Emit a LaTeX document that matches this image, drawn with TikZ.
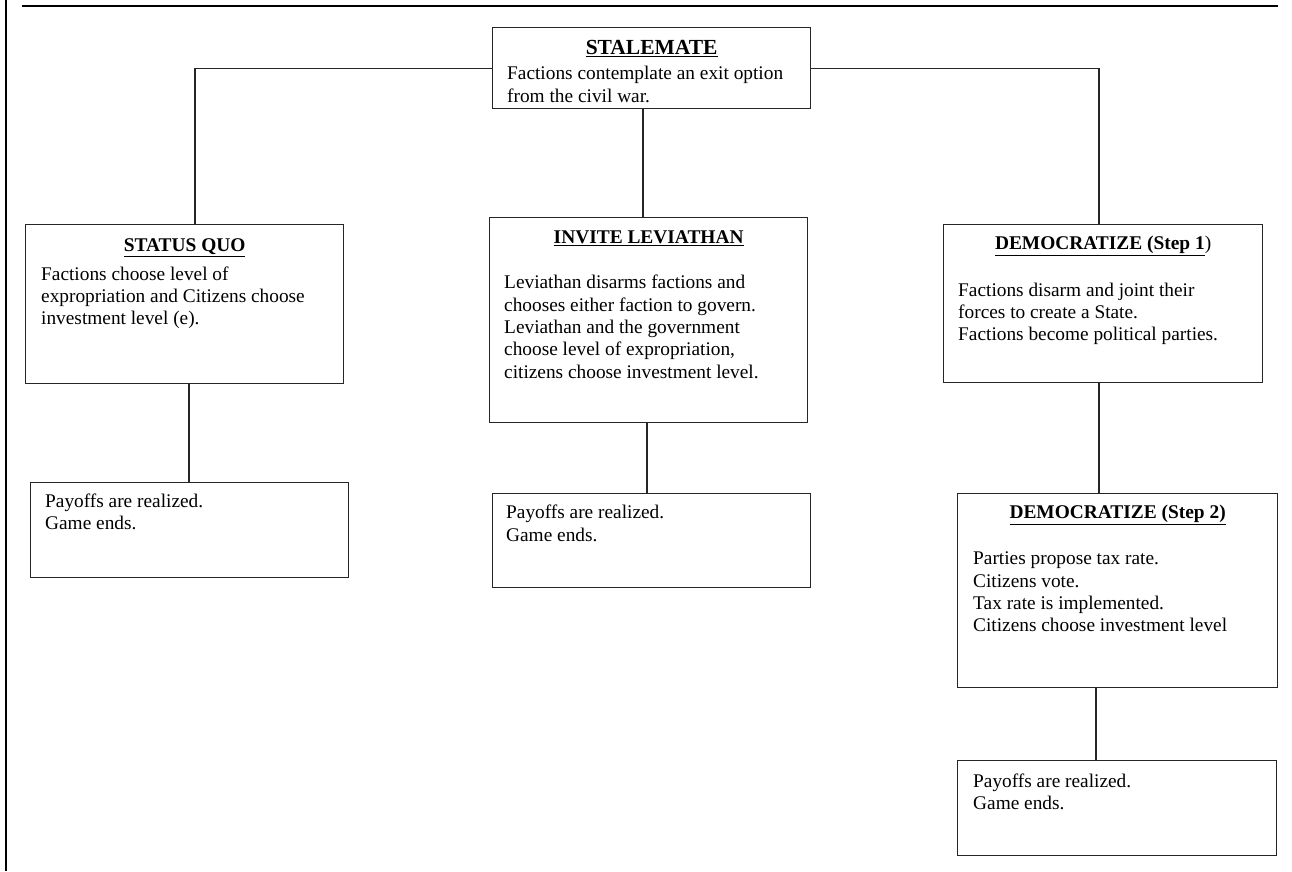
\documentclass[tikz,border=0pt]{standalone}
\usepackage{fontspec}
\setmainfont{Liberation Serif}
\begin{document}
\begin{tikzpicture}[x=1pt,y=-1pt,
  box/.style={draw=black!85, line width=1.3pt, anchor=north west, inner sep=0pt},
  ttl/.style={anchor=base, inner sep=0pt, font=\fontsize{19.4}{22.4}\selectfont\bfseries},
  bigttl/.style={ttl, font=\fontsize{21.5}{24}\selectfont\bfseries},
  txt/.style={anchor=north west, inner sep=0pt, align=left, font=\fontsize{19.33}{22.4}\selectfont},
  conn/.style={draw=black!85, line width=1.2pt},
  frame/.style={draw=black, line width=2.2pt}]
\useasboundingbox (0,0) rectangle (1292,871);
% frame
\draw[frame] (6,0) -- (6,871);
\draw[frame] (22,6) -- (1278,6);
% boxes
\node[box, minimum width=318pt, minimum height=81pt]  (sm)  at (492,27)  {};
\node[box, minimum width=318pt, minimum height=159pt] (sq)  at (25,224)  {};
\node[box, minimum width=318pt, minimum height=205pt] (lev) at (489,217) {};
\node[box, minimum width=319pt, minimum height=158pt] (d1)  at (943,224) {};
\node[box, minimum width=320pt, minimum height=194pt] (d2)  at (957,493) {};
\node[box, minimum width=318pt, minimum height=95pt]  (p1)  at (30,482)  {};
\node[box, minimum width=318pt, minimum height=94pt]  (p2)  at (492,493) {};
\node[box, minimum width=319pt, minimum height=95pt]  (p3)  at (957,760) {};
% titles
\node[bigttl] (smt)  at (sm.north |- 0,54.5)   {\underline{STALEMATE}};
\node[ttl]    (sqt)  at (sq.north |- 0,251.5)  {\underline{STATUS QUO}};
\node[ttl]    (levt) at (lev.north |- 0,243.5) {\underline{INVITE LEVIATHAN}};
\node[ttl]    (d1t)  at (d1.north |- 0,249.5)  {\underline{DEMOCRATIZE (Step 1}\mdseries)};
\node[ttl]    (d2t)  at (d2.north |- 0,518.5)  {\underline{DEMOCRATIZE (Step 2)}};
% bodies (y = first baseline - strut height 15.68)
\node[txt] (smb)  at (507,63.8)  {\strut Factions contemplate an exit option\\\strut from the civil war.};
\node[txt] (sqb)  at (41,264.3)  {\strut Factions choose level of\\\strut expropriation and Citizens choose\\\strut investment level (e).};
\node[txt] (levb) at (504,272.8) {\strut Leviathan disarms factions and\\\strut chooses either faction to govern.\\\strut Leviathan and the government\\\strut choose level of expropriation,\\\strut citizens choose investment level.};
\node[txt] (d1b)  at (958,280.3) {\strut Factions disarm and joint their\\\strut forces to create a State.\\\strut Factions become political parties.};
\node[txt] (d2b)  at (973,548.8) {\strut Parties propose tax rate.\\\strut Citizens vote.\\\strut Tax rate is implemented.\\\strut Citizens choose investment level};
\node[txt] (p1b)  at (45,491.3)  {\strut Payoffs are realized.\\\strut Game ends.};
\node[txt] (p2b)  at (506,502.8) {\strut Payoffs are realized.\\\strut Game ends.};
\node[txt] (p3b)  at (973,771.3) {\strut Payoffs are realized.\\\strut Game ends.};
% connectors
\draw[conn] (sm.west) -| (sq.north -| 195,0);
\draw[conn] (sm.east) -| (d1.north -| 1099,0);
\draw[conn] (sm.south -| 643,0) -- (lev.north -| 643,0);
\draw[conn] (sq.south -| 189,0) -- (p1.north -| 189,0);
\draw[conn] (lev.south -| 647,0) -- (p2.north -| 647,0);
\draw[conn] (d1.south -| 1099,0) -- (d2.north -| 1099,0);
\draw[conn] (d2.south -| 1096,0) -- (p3.north -| 1096,0);
\end{tikzpicture}
\end{document}
